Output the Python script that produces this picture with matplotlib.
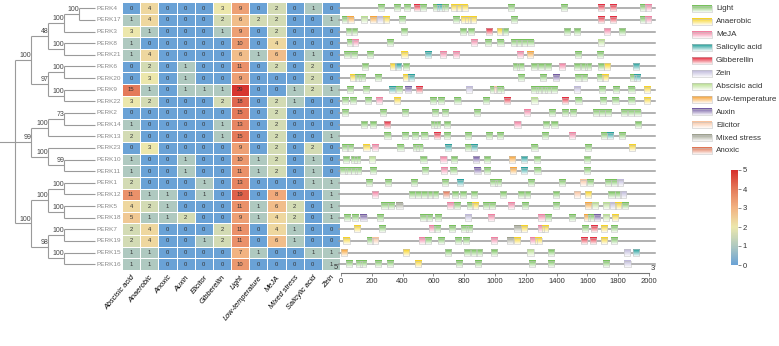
import numpy as np
import matplotlib.pyplot as plt
from matplotlib.colors import LinearSegmentedColormap, to_rgb
from matplotlib.patches import Rectangle
from matplotlib.cm import ScalarMappable
from matplotlib.colors import Normalize

plt.rcParams['font.family'] = ['Liberation Sans', 'DejaVu Sans']

W, H = 779, 346

genes = ["PERK4", "PERK17", "PERK3", "PERK8", "PERK21", "PERK6", "PERK20", "PERK9",
         "PERK22", "PERK2", "PERK14", "PERK13", "PERK23", "PERK10", "PERK11", "PERK1",
         "PERK12", "PERK5", "PERK18", "PERK7", "PERK19", "PERK15", "PERK16"]
factors = ["Abscisic acid", "Anaerobic", "Anoxic", "Auxin", "Elicitor", "Gibberellin",
           "Light", "Low-temperature", "MeJA", "Mixed stress", "Salicylic acid", "Zein"]

# number of elements per gene (rows) and factor (columns)
counts = np.array([
    [0, 4, 0, 0, 0, 3, 9, 0, 2, 0, 1, 0],
    [1, 4, 0, 0, 0, 2, 6, 2, 2, 0, 0, 1],
    [3, 1, 0, 0, 0, 1, 9, 0, 2, 0, 0, 0],
    [1, 0, 0, 0, 0, 0, 10, 0, 4, 0, 0, 0],
    [1, 4, 0, 0, 0, 0, 6, 1, 6, 0, 1, 0],
    [0, 2, 0, 1, 0, 0, 11, 0, 2, 0, 2, 0],
    [0, 3, 0, 1, 0, 0, 9, 0, 0, 0, 2, 0],
    [15, 1, 0, 1, 1, 1, 29, 0, 0, 1, 2, 1],
    [3, 2, 0, 0, 0, 2, 18, 0, 2, 1, 0, 0],
    [0, 0, 0, 0, 0, 0, 15, 0, 2, 0, 0, 0],
    [1, 0, 0, 0, 0, 1, 13, 0, 2, 0, 0, 0],
    [2, 0, 0, 0, 0, 1, 15, 0, 2, 0, 0, 1],
    [0, 3, 0, 0, 0, 0, 9, 0, 2, 0, 2, 0],
    [1, 0, 0, 1, 0, 0, 10, 1, 2, 0, 1, 0],
    [1, 0, 0, 1, 0, 0, 11, 1, 2, 0, 1, 0],
    [2, 0, 0, 0, 1, 0, 13, 0, 0, 0, 1, 1],
    [11, 1, 1, 0, 1, 0, 19, 0, 8, 0, 0, 1],
    [4, 2, 1, 0, 0, 0, 11, 1, 6, 2, 0, 1],
    [5, 1, 1, 2, 0, 0, 9, 1, 4, 2, 0, 1],
    [2, 4, 0, 0, 0, 2, 11, 0, 4, 1, 0, 0],
    [2, 4, 0, 0, 1, 2, 11, 0, 6, 1, 0, 0],
    [1, 1, 0, 0, 0, 0, 7, 1, 0, 0, 1, 1],
    [1, 1, 0, 0, 0, 0, 10, 0, 0, 0, 0, 1],
])

# element types (legend order)
el_names = ["Light", "Anaerobic", "MeJA", "Salicylic acid", "Gibberellin", "Zein",
            "Abscisic acid", "Low-temperature", "Auxin", "Elicitor", "Mixed stress", "Anoxic"]
el_codes = ["L", "An", "Me", "SA", "GA", "Ze", "ABA", "LT", "Au", "El", "MS", "Ax"]
el_colors = ["#72bf55", "#f7d21e", "#f27b9e", "#1f9e9a", "#e52638", "#bdb7d9",
             "#b6de8c", "#f7a233", "#6f56a0", "#f8c09a", "#9a9d8a", "#e0704e"]

# element positions (bp from 5') per promoter
s_PERK4 = [(262, 'L'), (366, 'L'), (426, 'L'), (496, 'GA'), (530, 'L'), (616, 'L'), (646, 'SA'), (676, 'L'),
           (736, 'An'), (766, 'An'), (802, 'An'), (1106, 'L'), (1446, 'L'), (1686, 'GA'), (1766, 'GA'),
           (1960, 'L'), (1995, 'Me')]
s_PERK17 = [(26, 'L'), (62, 'LT'), (150, 'ABA'), (206, 'LT'), (256, 'Ze'), (290, 'An'), (396, 'L'), (746, 'L'),
            (802, 'An'), (826, 'An'), (856, 'An'), (1126, 'L'), (1686, 'GA'), (1766, 'GA'), (1960, 'L'), (1995, 'Me')]
s_PERK3 = [(50, 'L'), (82, 'L'), (410, 'L'), (790, 'L'), (846, 'L'), (960, 'GA'), (1030, 'An'), (1066, 'L'),
           (1466, 'L'), (1532, 'L'), (1726, 'Me'), (1822, 'L')]
s_PERK8 = [(56, 'L'), (90, 'Me'), (320, 'L'), (866, 'Me'), (956, 'L'), (1036, 'L'), (1122, 'L'), (1156, 'L'),
           (1186, 'L'), (1230, 'L'), (1686, 'ABA')]
s_PERK21 = [(40, 'L'), (86, 'L'), (190, 'L'), (412, 'An'), (566, 'SA'), (662, 'Me'), (746, 'Me'), (1160, 'Me'),
            (1226, 'LT'), (1540, 'L'), (1680, 'L')]
s_PERK6 = [(156, 'L'), (340, 'An'), (372, 'SA'), (422, 'L'), (1136, 'L'), (1166, 'L'), (1252, 'L'), (1296, 'L'),
           (1342, 'L'), (1436, 'Me'), (1530, 'L'), (1576, 'L'), (1606, 'L'), (1690, 'L'), (1730, 'An'), (1916, 'SA')]
s_PERK20 = [(76, 'An'), (110, 'L'), (136, 'L'), (242, 'L'), (422, 'An'), (452, 'SA'), (1170, 'L'), (1312, 'L'),
            (1398, 'Au'), (1542, 'L'), (1576, 'L'), (1682, 'L'), (1716, 'An'), (1896, 'L'), (1922, 'SA')]
s_PERK9 = [(56, 'L'), (162, 'L'), (330, 'SA'), (376, 'L'), (436, 'Au'), (506, 'GA'), (830, 'Ze'), (986, 'L'),
           (1016, 'El'), (1036, 'L'), (1256, 'L'), (1286, 'L'), (1316, 'L'), (1346, 'L'), (1382, 'L'),
           (1532, 'Ze'), (1696, 'L'), (1786, 'L'), (1886, 'L'), (1985, 'An')]
s_PERK22 = [(26, 'L'), (80, 'L'), (176, 'L'), (246, 'Me'), (366, 'An'), (600, 'L'), (650, 'L'), (756, 'L'),
            (942, 'L'), (1076, 'GA'), (1256, 'ABA'), (1456, 'GA'), (1542, 'L'), (1700, 'L'), (1782, 'L'),
            (1886, 'L'), (1985, 'An')]
s_PERK2 = [(26, 'L'), (270, 'L'), (416, 'L'), (610, 'L'), (676, 'L'), (882, 'L'), (1210, 'Me'), (1370, 'L'),
           (1456, 'L'), (1506, 'L'), (1656, 'L'), (1696, 'L'), (1736, 'L'), (1836, 'L'), (1882, 'L'), (1925, 'L')]
s_PERK14 = [(152, 'L'), (210, 'L'), (296, 'GA'), (602, 'L'), (626, 'L'), (690, 'L'), (1146, 'Me'), (1330, 'L'),
            (1386, 'L'), (1926, 'L')]
s_PERK13 = [(302, 'L'), (416, 'L'), (482, 'L'), (542, 'L'), (626, 'GA'), (690, 'L'), (826, 'L'), (960, 'L'),
            (1030, 'L'), (1322, 'L'), (1500, 'Me'), (1706, 'L'), (1746, 'SA'), (1826, 'L')]
s_PERK23 = [(26, 'L'), (56, 'L'), (166, 'An'), (222, 'Me'), (386, 'L'), (486, 'L'), (510, 'L'), (696, 'SA'),
            (826, 'L'), (862, 'SA'), (1256, 'L'), (1602, 'L'), (1892, 'An')]
s_PERK10 = [(32, 'L'), (82, 'L'), (106, 'L'), (202, 'ABA'), (536, 'L'), (666, 'Me'), (732, 'L'), (876, 'Au'),
            (946, 'L'), (1110, 'LT'), (1186, 'SA'), (1270, 'L'), (1596, 'L')]
s_PERK11 = [(16, 'L'), (46, 'L'), (86, 'L'), (110, 'L'), (206, 'L'), (546, 'L'), (670, 'Me'), (730, 'L'),
            (886, 'Au'), (950, 'L'), (1118, 'LT'), (1190, 'SA'), (1276, 'L'), (1596, 'L')]
s_PERK1 = [(182, 'L'), (306, 'L'), (476, 'L'), (676, 'L'), (770, 'SA'), (990, 'L'), (1022, 'L'), (1232, 'L'),
           (1436, 'L'), (1570, 'El'), (1616, 'L'), (1736, 'L'), (1776, 'L'), (1810, 'Ze')]
s_PERK12 = [(222, 'Me'), (462, 'L'), (502, 'L'), (542, 'L'), (576, 'L'), (610, 'L'), (682, 'Ax'), (742, 'L'),
            (790, 'L'), (866, 'L'), (1050, 'L'), (1172, 'L'), (1206, 'L'), (1396, 'L'), (1530, 'El'),
            (1602, 'An'), (1756, 'L'), (1796, 'L'), (1830, 'Ze')]
s_PERK5 = [(282, 'L'), (322, 'L'), (380, 'MS'), (710, 'Me'), (752, 'L'), (836, 'L'), (870, 'An'), (942, 'L'),
           (982, 'L'), (1102, 'Me'), (1196, 'L'), (1396, 'L'), (1606, 'LT'), (1650, 'ABA'), (1722, 'ABA'),
           (1766, 'Ze'), (1796, 'An'), (1846, 'L')]
s_PERK18 = [(40, 'L'), (90, 'L'), (146, 'Au'), (252, 'L'), (536, 'L'), (572, 'L'), (630, 'L'), (826, 'Ze'),
            (976, 'Me'), (1302, 'Me'), (1346, 'L'), (1502, 'L'), (1596, 'LT'), (1626, 'L'), (1662, 'Au'),
            (1722, 'ABA'), (1780, 'An')]
s_PERK7 = [(102, 'An'), (266, 'L'), (590, 'Me'), (626, 'L'), (720, 'L'), (802, 'L'), (830, 'L'), (1146, 'MS'),
           (1190, 'An'), (1296, 'Me'), (1326, 'An'), (1582, 'L'), (1642, 'GA'), (1710, 'An'), (1772, 'L')]
s_PERK19 = [(36, 'An'), (190, 'L'), (222, 'El'), (526, 'Me'), (566, 'L'), (650, 'L'), (762, 'L'), (810, 'L'),
            (996, 'Me'), (1096, 'MS'), (1142, 'An'), (1250, 'Me'), (1282, 'An'), (1576, 'GA'), (1636, 'GA'),
            (1706, 'An'), (1770, 'L')]
s_PERK15 = [(22, 'LT'), (422, 'An'), (696, 'L'), (816, 'L'), (866, 'L'), (896, 'L'), (996, 'L'), (1230, 'ABA'),
            (1362, 'L'), (1856, 'Ze'), (1916, 'SA')]
s_PERK16 = [(50, 'L'), (116, 'L'), (142, 'L'), (240, 'L'), (316, 'L'), (500, 'An'), (766, 'L'), (890, 'L'),
            (1240, 'L'), (1366, 'L'), (1720, 'L'), (1860, 'Ze')]

sites = [s_PERK4, s_PERK17, s_PERK3, s_PERK8, s_PERK21, s_PERK6, s_PERK20, s_PERK9, s_PERK22, s_PERK2,
         s_PERK14, s_PERK13, s_PERK23, s_PERK10, s_PERK11, s_PERK1, s_PERK12, s_PERK5, s_PERK18, s_PERK7,
         s_PERK19, s_PERK15, s_PERK16]


def N(s, *kids):
    return {'s': s, 'kids': kids}


tree = N(None,
         N(100, N(48, N(100, N(100, 'PERK4', 'PERK17'), 'PERK3'), N(100, 'PERK8', 'PERK21')),
           N(97, N(100, 'PERK6', 'PERK20'), N(100, 'PERK9', 'PERK22'))),
         N(99, N(100, N(73, 'PERK2', 'PERK14'), 'PERK13'), N(100, 'PERK23', N(99, 'PERK10', 'PERK11'))),
         N(100, N(100, N(100, 'PERK1', 'PERK12'), N(100, 'PERK5', 'PERK18')),
           N(98, N(100, 'PERK7', 'PERK19'), N(100, 'PERK15', 'PERK16'))))

# ---- layout (pixel based) ----
fig = plt.figure(figsize=(W / 100, H / 100), dpi=100)
top_px, bot_px = 2.5, 270
b = 1 - bot_px / H
h = (bot_px - top_px) / H
n = len(genes)
ylim = (n - 0.5, -0.5)

# heatmap
cmap = LinearSegmentedColormap.from_list('hm', [
    (0.0, '#6aa2d6'), (0.2, '#afc9c0'), (0.4, '#ece7ac'), (0.6, '#f2b382'),
    (0.8, '#e47a5a'), (1.0, '#d62f2b')])
axh = fig.add_axes([122 / W, b, 218 / W, h])
vals = np.log2(counts + 1)
axh.pcolormesh(np.arange(len(factors) + 1), np.arange(n + 1) - 0.5, vals, cmap=cmap, vmin=0, vmax=5,
               edgecolors='white', linewidth=0.6)
for i in range(n):
    for j in range(len(factors)):
        axh.text(j + 0.5, i, str(counts[i, j]), ha='center', va='center', fontsize=4.2, color='#333333')
axh.set_xlim(0, len(factors))
axh.set_ylim(*ylim)
axh.set_yticks([])
axh.set_xticks(np.arange(len(factors)) + 0.5)
axh.set_xticklabels(factors, rotation=50, ha='right', rotation_mode='anchor', fontsize=5.3, style='italic')
axh.tick_params(axis='x', length=0, pad=3)
for sp in axh.spines.values():
    sp.set_visible(False)

# tree + gene names
axt = fig.add_axes([0, b, 122 / W, h])
axt.set_xlim(0, 122)
axt.set_ylim(*ylim)
axt.axis('off')
axt.patch.set_alpha(0)
depth_x = [15, 31, 48, 64, 79]
leaf_x = 95
tc = '#9a9a9a'


def draw(node, d):
    if isinstance(node, str):
        return genes.index(node)
    x = depth_x[d]
    ys = []
    for k in node['kids']:
        y = draw(k, d + 1)
        cx = leaf_x if isinstance(k, str) else depth_x[d + 1]
        axt.plot([x, cx], [y, y], color=tc, lw=0.8, solid_capstyle='butt')
        ys.append(y)
    axt.plot([x, x], [min(ys), max(ys)], color=tc, lw=0.8, solid_capstyle='butt')
    y = (min(ys) + max(ys)) / 2
    if node['s'] is not None:
        axt.text(x + 0.5, y - 0.08, str(node['s']), ha='right', va='bottom', fontsize=5, color='#444444')
    return y


yroot = draw(tree, 0)
axt.plot([0, depth_x[0]], [yroot, yroot], color=tc, lw=0.8)
for i, g in enumerate(genes):
    axt.text(96.5, i, g, ha='left', va='center', fontsize=4.6, color='#8a8a8a')

# promoter panel
axg = fig.add_axes([341 / W, b, 308 / W, h])
color_of = dict(zip(el_codes, el_colors))
box_w, box_h = 40, 0.54


def gbox(ax, x, y, color, w, hh):
    c = np.array(to_rgb(color))
    t = np.linspace(0, 0.9, 12)[:, None, None]
    img = c[None, None, :] * (1 - t) + t
    ax.imshow(img, extent=(x - w / 2, x + w / 2, y + hh / 2, y - hh / 2), aspect='auto',
              interpolation='bilinear', zorder=3, clip_on=False)
    ax.add_patch(Rectangle((x - w / 2, y - hh / 2), w, hh, fill=False, ec='#c4c4c4', lw=0.4,
                           zorder=4, clip_on=False))


for i, row in enumerate(sites):
    axg.plot([-10, 2040], [i, i], color='#9c9c9c', lw=1.1, zorder=1, clip_on=False)
    for pos, code in row:
        gbox(axg, pos, i, color_of[code], box_w, box_h)
axg.set_xlim(0, 2000)
axg.set_ylim(*ylim)
for s in ['top', 'right', 'left']:
    axg.spines[s].set_visible(False)
axg.spines['bottom'].set_position(('outward', 2))
axg.spines['bottom'].set_color('#777777')
axg.spines['bottom'].set_linewidth(0.8)
axg.set_yticks([])
axg.set_xticks(np.arange(0, 2001, 200))
axg.tick_params(axis='x', labelsize=5.5, length=2.5, width=0.6, color='#777777', labelcolor='#333333', pad=1.5)
axg.text(-8, 22.55, "5'", ha='right', va='bottom', fontsize=5.5, color='#333333', clip_on=False)
axg.text(2010, 22.7, "3'", ha='left', va='bottom', fontsize=5.5, color='#333333', clip_on=False)

# legend (own pixel coordinates)
axl = fig.add_axes([686 / W, 0, 93 / W, 1])
axl.axis('off')
for k, (nm, col) in enumerate(zip(el_names, el_colors)):
    yk = 9 + 12.9 * k
    gbox(axl, 702, yk, col, 20, 6.5)
    axl.text(716, yk, nm, ha='left', va='center', fontsize=5.8, color='#333333')
axl.set_xlim(686, 779)
axl.set_ylim(H, 0)

# colorbar
cax = fig.add_axes([731 / W, 1 - 265 / H, 7 / W, 95 / H])
sm = ScalarMappable(norm=Normalize(0, 5), cmap=cmap)
cb = fig.colorbar(sm, cax=cax, ticks=range(6))
cb.outline.set_visible(False)
cax.tick_params(labelsize=5.5, length=2, width=0.6, color='#777777', labelcolor='#333333', pad=1.5)

fig.savefig('out.png', dpi=100)
